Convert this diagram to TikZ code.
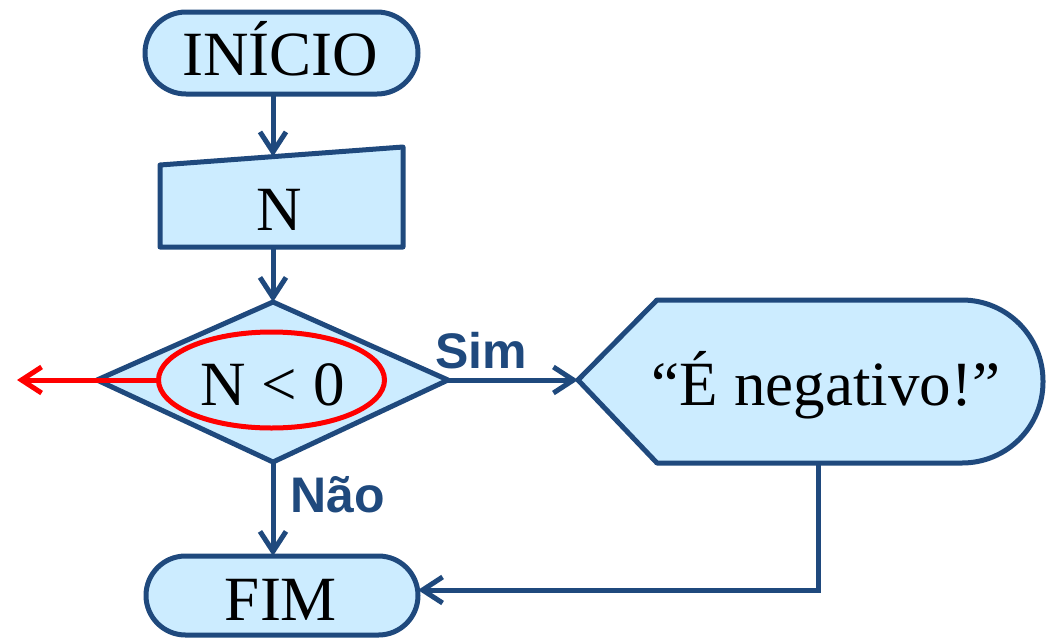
\documentclass[tikz,border=0pt]{standalone}
\usepackage{fontspec}
\setmainfont{Liberation Serif}
\newfontfamily\labelfont{Liberation Sans}
\usetikzlibrary{arrows.meta}
\definecolor{flowblue}{RGB}{31,73,125}
\definecolor{flowfill}{RGB}{204,236,255}
\definecolor{flowred}{RGB}{255,0,0}
\begin{document}
\begin{tikzpicture}[x=1pt,y=-1pt,
  box/.style={draw=flowblue, fill=flowfill, line width=5pt, line join=round},
  flow/.style={draw=flowblue, line width=5pt, -{Straight Barb[length=20pt,width=26pt]}},
  redflow/.style={draw=flowred, line width=5pt, -{Straight Barb[length=20pt,width=26pt]}},
  txt/.style={font=\fontsize{63}{70}\selectfont, text=black, inner sep=0pt, anchor=base},
  lbl/.style={font=\labelfont\bfseries\fontsize{50}{56}\selectfont, text=flowblue, inner sep=0pt, anchor=base west}]
\useasboundingbox (0,0) rectangle (1046,638);

% terminator: start
\draw[box, rounded corners=41pt] (145,12) rectangle (418,94);
\node[txt] (start) at (280,75) {INÍCIO};
\coordinate (startS) at (273,94);

% manual input
\draw[box] (160,165) -- (403,147) -- (403,247) -- (160,247) -- cycle;
\node[txt] (input) at (279,230) {N};
\coordinate (inputN) at (273,156.5);
\coordinate (inputS) at (273,247);

% decision
\draw[box] (273,302) -- (448,380) -- (273,462) -- (97,380) -- cycle;
\coordinate (condN) at (273,302);
\coordinate (condE) at (448,380);
\coordinate (condS) at (273,462);
\draw[flowred, line width=5pt] (271.5,380) ellipse [x radius=113, y radius=48];
\node[txt] (cond) at (272.5,405) {N < 0};
\coordinate (ringW) at (158.5,380);
\coordinate (outW) at (17,380);

% display
\draw[box] (578,380) -- (657,300) [rounded corners=81pt] -- (1043,300) -- (1043,463) [sharp corners] -- (657,463) -- cycle;
\node[txt] (msg) at (826,405) {“É negativo!”};
\coordinate (msgW) at (578,380);
\coordinate (msgS) at (818,463);
\coordinate (bend) at (818,590);

% terminator: end
\draw[box, rounded corners=39.5pt] (146,556) rectangle (418,635);
\node[txt] (stop) at (281,620) {FIM};
\coordinate (stopN) at (273,556);
\coordinate (stopE) at (418,590);

% connectors
\draw[flow] (startS) -- (inputN);
\draw[flow] (inputS) -- (condN);
\draw[flow] (condE) -- (msgW);
\draw[flow] (condS) -- (stopN);
\draw[flow] (msgS) -- (bend) -- (stopE);
\draw[redflow] (ringW) -- (outW);

% branch labels
\node[lbl] (yes) at (435,368) {Sim};
\node[lbl] (no) at (290,512) {Não};
\end{tikzpicture}
\end{document}
